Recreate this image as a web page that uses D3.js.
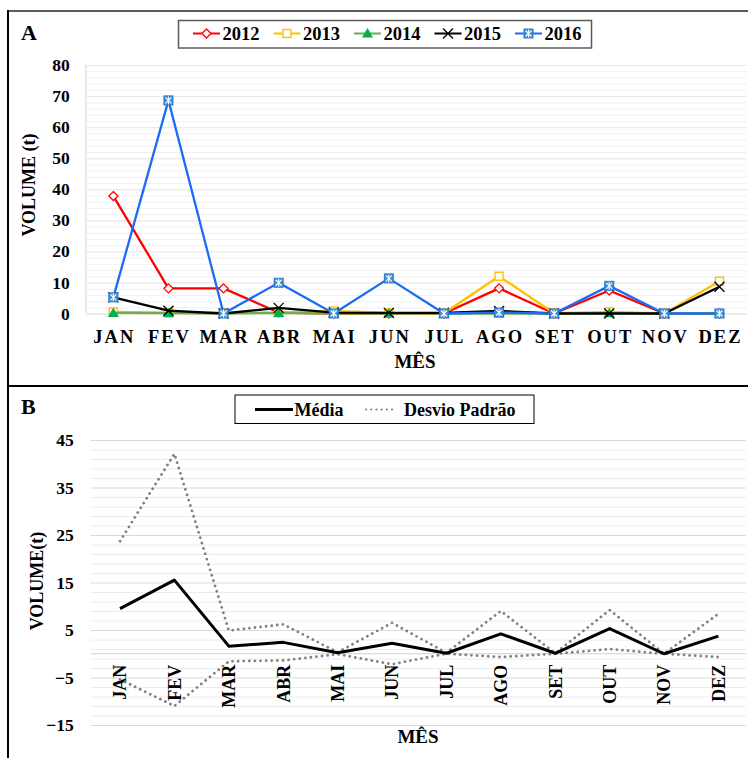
<!DOCTYPE html>
<html><head><meta charset="utf-8">
<script src="https://cdn.jsdelivr.net/npm/d3@7"></script>
<style>
body{margin:0;background:#fff}
svg{display:block}
svg text{font-family:'Liberation Serif','Times New Roman',Times,serif !important;font-weight:bold;fill:#000}
</style>
</head><body>
<svg id="c" width="748" height="758"></svg>
<script>
// ---------- data ----------
const months = ["JAN","FEV","MAR","ABR","MAI","JUN","JUL","AGO","SET","OUT","NOV","DEZ"];
const years = ["2012","2013","2014","2015","2016"];
const v2012 = [37.8, 8.1, 8.1, 0.3, 0, 0, 0, 8.1, 0, 7.4, 0, 0];
const v2013 = [0.5, 0.3, 0.2, 0.3, 0.8, 0.2, 0.1, 12.0, 0.1, 0.5, 0, 10.4];
const v2014 = [0.2, 0.1, 0, 0.2, 0, 0, 0, 0, 0, 0.1, 0, 0];
const v2015 = [5.2, 0.9, 0, 1.8, 0.3, 0.2, 0.2, 0.8, 0, 0, 0, 8.6];
const v2016 = [5.2, 68.6, 0, 9.9, 0, 11.3, 0, 0.3, 0, 8.9, 0, 0];
const media   = [9.5, 15.5, 1.6, 2.4, 0.2, 2.2, 0.1, 4.2, 0.1, 5.3, 0, 3.7];
const dpUpper = [23.7, 42.1, 4.9, 6.2, 0.3, 6.5, 0.2, 9.0, 0.1, 9.2, 0, 8.4];
const dpLower = [-5.4, -11.0, -1.6, -1.4, -0.1, -2.2, 0, -0.7, 0, 1.0, 0, -0.7];
const yTicksA = [0,10,20,30,40,50,60,70,80];
const yTicksB = [-15,-5,5,15,25,35,45];
const legendB = ["Média","Desvio Padrão"];

const FONT = "'Liberation Serif','Times New Roman',Times,serif";

const seriesA = [
  {name:years[0], values:v2012, line:"#FF0000", marker:"diamond"},
  {name:years[1], values:v2013, line:"#FFC000", marker:"square"},
  {name:years[2], values:v2014, line:"#70AD47", marker:"triangle"},
  {name:years[3], values:v2015, line:"#000000", marker:"x"},
  {name:years[4], values:v2016, line:"#1A6CF5", marker:"star"}
];

const svg = d3.select("#c").attr("font-family", FONT).attr("font-weight","bold");

// ---------- frames ----------
svg.append("line").attr("x1",8).attr("x2",748).attr("y1",11).attr("y2",11).attr("stroke","#5a5a5a").attr("stroke-width",2);
svg.append("line").attr("x1",8).attr("x2",8).attr("y1",10).attr("y2",758).attr("stroke","#000").attr("stroke-width",2);
svg.append("line").attr("x1",8).attr("x2",748).attr("y1",386).attr("y2",386).attr("stroke","#000").attr("stroke-width",2);

// ---------- markers ----------
function drawMarker(g, type, color){
  if(type==="diamond"){
    g.append("path").attr("d","M0,-4.5L4.5,0L0,4.5L-4.5,0Z").attr("fill","#fff").attr("stroke",color).attr("stroke-width",1.3);
  } else if(type==="square"){
    g.append("rect").attr("x",-4).attr("y",-4).attr("width",8).attr("height",8).attr("fill","#fff").attr("stroke",color).attr("stroke-width",1.4);
  } else if(type==="triangle"){
    g.append("path").attr("d","M0,-5.5L5.5,4L-5.5,4Z").attr("fill","#00B050");
  } else if(type==="x"){
    g.append("path").attr("d","M-5,-5L5,5M-5,5L5,-5").attr("stroke","#000").attr("stroke-width",1.3).attr("fill","none");
  } else if(type==="star"){
    g.append("rect").attr("x",-4.5).attr("y",-4.5).attr("width",9).attr("height",9).attr("fill","#3D8FD9").attr("stroke","#2A78CC").attr("stroke-width",1);
    g.append("path").attr("d","M-3,-3L3,3M-3,3L3,-3M0,-4L0,4").attr("stroke","#fff").attr("stroke-width",1.1);
  }
}
function styleText(sel, size){
  sel.attr("font-size",size).attr("font-family",FONT).attr("font-weight","bold").attr("fill","#000");
}

// ================= PANEL A =================
const xA = d3.scaleBand().domain(months).range([85.8, 747]).paddingInner(0).paddingOuter(0);
const yA = d3.scaleLinear().domain([0,80]).range([313.5, 65]);
const cxA = m => xA(m) + xA.bandwidth()/2;

const gA = svg.append("g");
gA.append("g").attr("transform","translate(85.8,0)")
  .call(d3.axisLeft(yA).tickValues(d3.range(2,81,2)).tickSize(-(747-85.8)).tickFormat(""))
  .call(g=>g.select(".domain").remove())
  .call(g=>g.selectAll(".tick line").attr("stroke","#f0f0f0").attr("stroke-width",1));
gA.append("g").attr("transform","translate(85.8,0)")
  .call(d3.axisLeft(yA).tickValues(yTicksA).tickSize(-(747-85.8)).tickPadding(16))
  .call(g=>g.select(".domain").remove())
  .call(g=>g.selectAll(".tick line").attr("stroke", d=> d===0 ? "#d9d9d9" : "#e8e8e8").attr("stroke-width",1))
  .call(g=>styleText(g.selectAll(".tick text"),17.5));
svg.append("line").attr("x1",85.8).attr("x2",85.8).attr("y1",65).attr("y2",313.5).attr("stroke","#e3e3e3").attr("stroke-width",1.5);

svg.append("g").attr("transform","translate(0,313.5)")
  .call(d3.axisBottom(xA).tickSize(0).tickPadding(0))
  .call(g=>g.select(".domain").remove())
  .call(g=>styleText(g.selectAll(".tick text").attr("y",29.5).attr("dy","0").attr("dx","1").attr("letter-spacing","2px"),18.5));

styleText(svg.append("text").attr("x",415).attr("y",368).attr("text-anchor","middle").text("MÊS"),19);
styleText(svg.append("text").attr("transform","translate(35,185) rotate(-90)").attr("text-anchor","middle").text("VOLUME (t)"),18);
styleText(svg.append("text").attr("x",21).attr("y",40).text("A"),22);

const lineA = d3.line().x((d,i)=>cxA(months[i])).y(d=>yA(d));
seriesA.forEach(s=>{
  svg.append("path").datum(s.values).attr("d",lineA).attr("fill","none")
    .attr("stroke",s.line).attr("stroke-width",2.3).attr("stroke-linejoin","round");
  s.values.forEach((v,i)=>{
    const g = svg.append("g").attr("transform",`translate(${cxA(months[i])},${yA(v)})`);
    drawMarker(g, s.marker, s.line);
  });
});

svg.append("rect").attr("x",178.5).attr("y",20.5).attr("width",413).attr("height",27.5)
  .attr("fill","#fff").attr("stroke","#5a5a5a").attr("stroke-width",1.5);
seriesA.forEach((s,i)=>{
  const x0 = 193 + i*80.5;
  svg.append("line").attr("x1",x0).attr("x2",x0+27).attr("y1",33.5).attr("y2",33.5).attr("stroke",s.line).attr("stroke-width",2);
  const g = svg.append("g").attr("transform",`translate(${x0+13.5},33.5)`);
  drawMarker(g, s.marker, s.line);
  styleText(svg.append("text").attr("x",x0+29.5).attr("y",40).text(s.name),18.5);
});

// ================= PANEL B =================
const xB = d3.scaleBand().domain(months).range([92.8, 745.6]).paddingInner(0).paddingOuter(0);
const yB = d3.scaleLinear().domain([-15,45]).range([725, 440]);
const cxB = m => xB(m) + xB.bandwidth()/2;
const wB = 746 - 90.7;

svg.append("g").attr("transform","translate(90.7,0)")
  .call(d3.axisLeft(yB).tickValues(d3.range(-13,45,2).filter(v=> (v+15)%10!==0)).tickSize(-wB).tickFormat(""))
  .call(g=>g.select(".domain").remove())
  .call(g=>g.selectAll(".tick line").attr("stroke","#ececec").attr("stroke-width",1));
svg.append("g").attr("transform","translate(90.7,0)")
  .call(d3.axisLeft(yB).tickValues(yTicksB).tickSize(-wB).tickPadding(17))
  .call(g=>g.select(".domain").remove())
  .call(g=>g.selectAll(".tick line").attr("stroke","#d9d9d9").attr("stroke-width",1.2))
  .call(g=>styleText(g.selectAll(".tick text"),17.5));
svg.append("line").attr("x1",90.7).attr("x2",746).attr("y1",yB(0)).attr("y2",yB(0)).attr("stroke","#d0d0d0").attr("stroke-width",1.2);

svg.append("g").attr("transform",`translate(0,${yB(0)})`)
  .call(d3.axisBottom(xB).tickSize(0).tickPadding(0))
  .call(g=>g.select(".domain").remove())
  .call(g=>styleText(g.selectAll(".tick text").attr("transform","rotate(-90)").attr("x",-11).attr("y",0).attr("dy","0.35em").attr("text-anchor","end"),18));

styleText(svg.append("text").attr("x",418).attr("y",743).attr("text-anchor","middle").text("MÊS"),19);
styleText(svg.append("text").attr("transform","translate(43,581) rotate(-90)").attr("text-anchor","middle").text("VOLUME(t)"),18);
styleText(svg.append("text").attr("x",21).attr("y",414).text("B"),22);

const lineB = d3.line().x((d,i)=>cxB(months[i])).y(d=>yB(d));
const dotted = {stroke:"#808080", w:2.8, dash:"0.01,5.6"};
[dpUpper, dpLower].forEach(arr=>{
  svg.append("path").datum(arr).attr("d",lineB).attr("fill","none")
    .attr("stroke",dotted.stroke).attr("stroke-width",dotted.w).attr("stroke-dasharray",dotted.dash).attr("stroke-linecap","round");
});
svg.append("path").datum(media).attr("d",lineB).attr("fill","none")
  .attr("stroke","#000").attr("stroke-width",3).attr("stroke-linejoin","round");

svg.append("rect").attr("x",235).attr("y",395).attr("width",299).attr("height",28.5)
  .attr("fill","#fff").attr("stroke","#000").attr("stroke-width",1);
svg.append("line").attr("x1",255).attr("x2",293).attr("y1",409.5).attr("y2",409.5).attr("stroke","#000").attr("stroke-width",3);
styleText(svg.append("text").attr("x",294.5).attr("y",415.5).text(legendB[0]),18);
svg.append("line").attr("x1",366).attr("x2",397).attr("y1",409.5).attr("y2",409.5)
  .attr("stroke",dotted.stroke).attr("stroke-width",2.2).attr("stroke-dasharray","0.01,5.2").attr("stroke-linecap","round");
styleText(svg.append("text").attr("x",404).attr("y",415.5).text(legendB[1]),18);
</script>
</body></html>
